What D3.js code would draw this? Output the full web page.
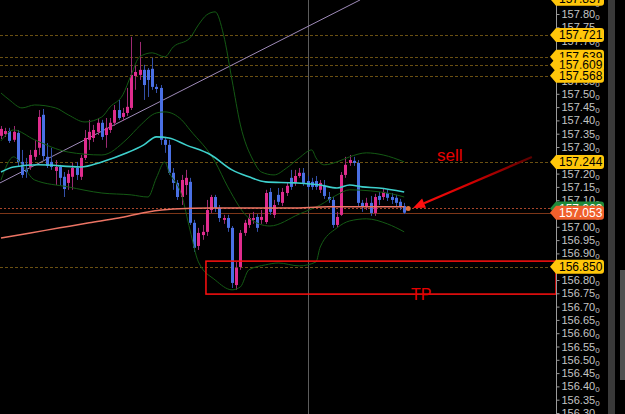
<!DOCTYPE html>
<html>
<head>
<meta charset="utf-8">
<script src="https://cdn.jsdelivr.net/npm/d3@7"></script>
<style>
  html, body { margin: 0; padding: 0; background: #000; }
  #chart { width: 625px; height: 414px; }
</style>
</head>
<body>
<div id="chart"></div>
<script>
// ---- candles (index 0..96) ----
const opens = [157.342,157.349,157.360,157.327,157.353,157.244,157.214,157.225,157.263,157.297,
157.421,157.263,157.244,157.210,157.225,157.188,157.165,157.188,157.221,157.188,
157.259,157.327,157.334,157.357,157.391,157.345,157.364,157.391,157.439,157.413,
157.428,157.447,157.567,157.571,157.590,157.590,157.594,157.526,157.522,157.327,
157.308,157.203,157.165,157.112,157.157,157.169,157.015,156.928,156.969,156.981,
157.063,157.112,157.071,157.026,157.033,156.996,156.781,156.849,156.977,157.007,
157.026,157.037,157.026,157.018,157.131,157.045,157.120,157.090,157.127,157.184,
157.165,157.191,157.203,157.172,157.169,157.172,157.139,157.154,157.112,157.101,
157.007,157.045,157.195,157.240,157.248,157.240,157.090,157.075,157.090,157.052,
157.116,157.112,157.127,157.112,157.109,157.094,157.078];
const highs = [157.379,157.372,157.372,157.379,157.364,157.289,157.259,157.289,157.327,157.439,
157.443,157.315,157.297,157.251,157.233,157.206,157.214,157.240,157.244,157.270,
157.364,157.402,157.383,157.409,157.402,157.409,157.409,157.458,157.477,157.447,
157.522,157.714,157.609,157.695,157.609,157.597,157.635,157.537,157.533,157.338,
157.327,157.221,157.176,157.195,157.214,157.184,157.026,156.996,157.007,157.101,
157.120,157.120,157.082,157.045,157.045,157.003,156.868,156.988,157.026,157.048,
157.056,157.048,157.063,157.139,157.146,157.101,157.146,157.146,157.165,157.214,
157.214,157.221,157.221,157.191,157.184,157.191,157.176,157.176,157.131,157.112,
157.056,157.206,157.263,157.270,157.263,157.251,157.101,157.109,157.116,157.124,
157.131,157.146,157.139,157.127,157.120,157.105,157.090];
const lows = [157.330,157.338,157.315,157.319,157.229,157.184,157.184,157.214,157.251,157.270,
157.251,157.221,157.214,157.157,157.157,157.112,157.139,157.139,157.176,157.176,
157.251,157.289,157.319,157.345,157.327,157.297,157.353,157.379,157.402,157.398,
157.417,157.439,157.515,157.552,157.477,157.488,157.515,157.503,157.308,157.278,
157.195,157.139,157.101,157.082,157.120,157.007,156.906,156.913,156.951,156.966,
157.052,157.056,157.018,157.011,156.981,156.770,156.763,156.838,156.966,156.996,
157.011,156.981,157.011,157.011,157.045,157.033,157.082,157.078,157.116,157.139,
157.154,157.184,157.154,157.139,157.139,157.139,157.127,157.105,157.090,156.996,
156.996,157.041,157.184,157.229,157.229,157.078,157.056,157.063,157.041,157.041,
157.082,157.101,157.097,157.086,157.078,157.063,157.048];
const closes = [157.368,157.360,157.323,157.357,157.244,157.195,157.206,157.270,157.289,157.413,
157.266,157.229,157.225,157.225,157.184,157.142,157.199,157.221,157.195,157.259,
157.334,157.357,157.364,157.391,157.338,157.372,157.391,157.439,157.409,157.428,
157.451,157.571,157.582,157.590,157.533,157.552,157.526,157.518,157.327,157.308,
157.203,157.165,157.112,157.176,157.184,157.015,156.921,156.977,156.981,157.063,
157.112,157.071,157.033,157.033,156.996,156.789,156.845,156.977,157.015,157.033,
157.033,156.996,157.037,157.127,157.056,157.082,157.094,157.131,157.154,157.150,
157.191,157.203,157.165,157.150,157.150,157.150,157.165,157.116,157.101,157.007,
157.037,157.195,157.233,157.251,157.240,157.090,157.075,157.090,157.052,157.112,
157.101,157.131,157.109,157.101,157.090,157.075,157.053];

// ---- indicator lines: [index, price] ----
const maFast = [[0,157.206],[3,157.225],[9,157.233],[19,157.225],[24,157.244],[30,157.278],[34,157.308],
  [37,157.338],[40,157.334],[44,157.308],[50,157.270],[55,157.214],[59,157.188],[63,157.169],[70,157.165],
  [76,157.157],[80,157.146],[83,157.157],[86,157.150],[90,157.146],[96,157.131]];
const bandUpper = [[0,157.503],[2,157.477],[5,157.447],[8,157.458],[13,157.447],[16,157.421],[20,157.394],
  [24,157.413],[26,157.451],[29,157.496],[31,157.571],[33,157.639],[36,157.654],[39,157.639],[41,157.676],
  [45,157.710],[47,157.759],[49,157.797],[51,157.808],[53,157.721],[55,157.552],[57,157.383],[60,157.251],
  [62,157.206],[65,157.195],[68,157.221],[71,157.259],[74,157.289],[75,157.259],[77,157.233],[80,157.244],
  [83,157.263],[87,157.278],[91,157.270],[96,157.244]];
const bandMiddle = [[0,157.323],[3,157.364],[8,157.327],[16,157.281],[24,157.270],[30,157.330],[33,157.379],
  [37,157.428],[39,157.432],[43,157.402],[45,157.364],[51,157.244],[54,157.150],[59,157.033],[64,157.003],
  [71,157.048],[76,157.082],[80,157.120],[83,157.139],[88,157.135],[93,157.124],[96,157.112]];
const bandLower = [[0,157.176],[3,157.263],[5,157.233],[8,157.176],[16,157.150],[24,157.127],[31,157.120],
  [35,157.112],[37,157.184],[39,157.244],[40,157.206],[43,157.120],[45,156.988],[47,156.868],[51,156.800],
  [55,156.763],[57,156.774],[59,156.838],[63,156.857],[66,156.864],[71,156.853],[75,156.868],[76,156.924],
  [80,156.996],[83,157.022],[87,157.030],[92,157.011],[96,156.981]];
const maSlow = [[0,156.958],[7,156.977],[14,156.996],[21,157.015],[28,157.033],[35,157.056],[41,157.067],
  [50,157.071],[59,157.071],[69,157.071],[78,157.075],[88,157.075],[96,157.075]];

// ---- levels and annotations ----
const levelPrices = [157.857, 157.721, 157.639, 157.609, 157.568, 157.244, 156.850];
const askPrice = 157.069;
const lastPrice = 157.053;
const trendLine = [[-0.24, 157.165], [85.5, 157.853]];
const crossIndex = 73.1;
const tpBox = { from: 48.8, top: 156.871, bottom: 156.747 };
const sellArrow = [[126.4, 157.262], [98.1, 157.071]];
const sellText = { at: 103.8, price: 157.247, text: "sell" };
const tpText = { at: 97.6, price: 156.725, text: "TP" };
const tickLabels = d3.range(0, 32).map(k => +(157.85 - k * 0.05).toFixed(2));

const width = 625, height = 414;
const axisX = 556;

const svg = d3.select("#chart").append("svg")
  .attr("width", width).attr("height", height)
  .style("background", "#000")
  .style("font-family", "'Liberation Sans', Arial, sans-serif");

const x = d3.scaleLinear().domain([0, 96]).range([1, 404.2]);
const y = d3.scaleLinear().domain([156.35, 157.80]).range([399.7, 14]);

svg.append("defs").append("clipPath").attr("id", "plot")
  .append("rect").attr("x", 0).attr("y", 0).attr("width", axisX).attr("height", height);

const plot = svg.append("g").attr("clip-path", "url(#plot)");

// level lines
plot.selectAll(".lvl").data(levelPrices).join("line")
  .attr("x1", 0).attr("x2", axisX - 6)
  .attr("y1", d => Math.round(y(d)) + 0.5).attr("y2", d => Math.round(y(d)) + 0.5)
  .attr("stroke", "#6a5012").attr("stroke-dasharray", "3,2");

plot.append("line")
  .attr("x1", 0).attr("x2", axisX)
  .attr("y1", Math.round(y(askPrice)) + 0.5).attr("y2", Math.round(y(askPrice)) + 0.5)
  .attr("stroke", "#a8452a").attr("stroke-dasharray", "2,2");
plot.append("line")
  .attr("x1", 0).attr("x2", axisX)
  .attr("y1", Math.round(y(lastPrice)) + 0.5).attr("y2", Math.round(y(lastPrice)) + 0.5)
  .attr("stroke", "#7c3618");

// crosshair vertical
plot.append("line")
  .attr("x1", Math.round(x(crossIndex)) + 0.5).attr("x2", Math.round(x(crossIndex)) + 0.5)
  .attr("y1", 0).attr("y2", height)
  .attr("stroke", "#5c5c5c");

// trend line
plot.append("line")
  .attr("x1", x(trendLine[0][0])).attr("y1", y(trendLine[0][1]))
  .attr("x2", x(trendLine[1][0])).attr("y2", y(trendLine[1][1]))
  .attr("stroke", "#9e8ab8").attr("stroke-width", 1);

// candles
const candles = opens.map((o, i) => ({ i, o, h: highs[i], l: lows[i], c: closes[i] }));
const bw = 3;
const cg = plot.selectAll(".candle").data(candles).join("g");
cg.append("line")
  .attr("x1", d => Math.round(x(d.i)) + 0.5).attr("x2", d => Math.round(x(d.i)) + 0.5)
  .attr("y1", d => y(d.h)).attr("y2", d => y(d.l))
  .attr("stroke", d => d.c >= d.o ? "#9c2a72" : "#3350a8");
cg.append("rect")
  .attr("x", d => Math.round(x(d.i)) - 1)
  .attr("y", d => y(Math.max(d.o, d.c)))
  .attr("width", bw)
  .attr("height", d => Math.max(1, Math.abs(y(d.o) - y(d.c))))
  .attr("fill", d => d.c >= d.o ? "#e02c8e" : "#4a70e4");

// indicators
const line = d3.line().x(d => x(d[0])).y(d => y(d[1])).curve(d3.curveMonotoneX);
[bandUpper, bandMiddle, bandLower].forEach(b => {
  plot.append("path").datum(b).attr("d", line)
    .attr("fill", "none").attr("stroke", "#145a14").attr("stroke-width", 1);
});
plot.append("path").datum(maSlow).attr("d", line)
  .attr("fill", "none").attr("stroke", "#ec7464").attr("stroke-width", 1.5);
plot.append("path").datum(maFast).attr("d", line)
  .attr("fill", "none").attr("stroke", "#3ed0cc").attr("stroke-width", 1.6);

// last price marker
plot.append("circle")
  .attr("cx", x(96) + 4).attr("cy", y(askPrice))
  .attr("r", 2.5).attr("fill", "#e0703a");

// TP box
plot.append("rect")
  .attr("x", x(tpBox.from)).attr("y", y(tpBox.top))
  .attr("width", axisX - x(tpBox.from)).attr("height", y(tpBox.bottom) - y(tpBox.top))
  .attr("fill", "none").attr("stroke", "#ff1010").attr("stroke-width", 1.5);

// sell arrow
const grad = svg.select("defs").append("linearGradient").attr("id", "arrowGrad")
  .attr("gradientUnits", "userSpaceOnUse")
  .attr("x1", x(sellArrow[0][0])).attr("y1", y(sellArrow[0][1]))
  .attr("x2", x(sellArrow[1][0])).attr("y2", y(sellArrow[1][1]));
grad.append("stop").attr("offset", 0).attr("stop-color", "#5a0000");
grad.append("stop").attr("offset", 0.5).attr("stop-color", "#d00000");
grad.append("stop").attr("offset", 1).attr("stop-color", "#ff1010");

const ax0 = x(sellArrow[0][0]), ay0 = y(sellArrow[0][1]);
const ax1 = x(sellArrow[1][0]), ay1 = y(sellArrow[1][1]);
const ang = Math.atan2(ay1 - ay0, ax1 - ax0);
const headLen = 12, headW = 5;
const bx = ax1 - headLen * Math.cos(ang), by = ay1 - headLen * Math.sin(ang);
plot.append("line")
  .attr("x1", ax0).attr("y1", ay0).attr("x2", bx).attr("y2", by)
  .attr("stroke", "url(#arrowGrad)").attr("stroke-width", 2.2);
plot.append("path")
  .attr("d", `M${ax1},${ay1} L${bx + headW * Math.sin(ang)},${by - headW * Math.cos(ang)} L${bx - headW * Math.sin(ang)},${by + headW * Math.cos(ang)} Z`)
  .attr("fill", "#ff1010");

plot.append("text")
  .attr("x", x(sellText.at)).attr("y", y(sellText.price))
  .attr("fill", "#e80000").style("font-size", "17px")
  .text(sellText.text);
plot.append("text")
  .attr("x", x(tpText.at)).attr("y", y(tpText.price))
  .attr("fill", "#e80000").style("font-size", "16px")
  .text(tpText.text);

// right strip
svg.append("rect").attr("x", 608).attr("y", 0).attr("width", 7).attr("height", height).attr("fill", "#3a3a3a");
svg.append("rect").attr("x", 620).attr("y", 270).attr("width", 5).attr("height", 110).attr("fill", "#505050");

// price axis
const axis = svg.append("g")
  .attr("transform", `translate(${axisX + 0.5},0)`)
  .call(d3.axisRight(y).tickValues(tickLabels).tickSize(3).tickPadding(2).tickFormat(d => d.toFixed(2)));
axis.select(".domain").attr("stroke", "#9a9a9a").attr("d", `M0,0V${height}`);
axis.selectAll(".tick line").attr("stroke", "#9a9a9a");
axis.selectAll(".tick text")
  .attr("fill", "#c4c4c4").style("font-size", "11px")
  .style("font-family", "'Liberation Sans', Arial, sans-serif")
  .append("tspan").attr("dy", "2").style("font-size", "8px").text("0");

// price labels
const tag = (p, fill, color, text) => {
  const cy = y(p);
  const g = svg.append("g");
  g.append("path")
    .attr("d", `M${axisX - 6},${cy} L${axisX},${cy - 7} H601 Q604,${cy - 7} 604,${cy - 4} V${cy + 4} Q604,${cy + 7} 601,${cy + 7} H${axisX} Z`)
    .attr("fill", fill);
  g.append("text")
    .attr("x", axisX + 3).attr("y", cy + 4.3)
    .attr("fill", color).style("font-size", "12px")
    .text(text);
};
levelPrices.forEach(p => tag(p, "#ffc60a", "#000", p.toFixed(3)));
tag(askPrice, "#1f8a3a", "#fff", askPrice.toFixed(3));
tag(lastPrice, "#f0602c", "#fff", lastPrice.toFixed(3));
</script>
</body>
</html>
